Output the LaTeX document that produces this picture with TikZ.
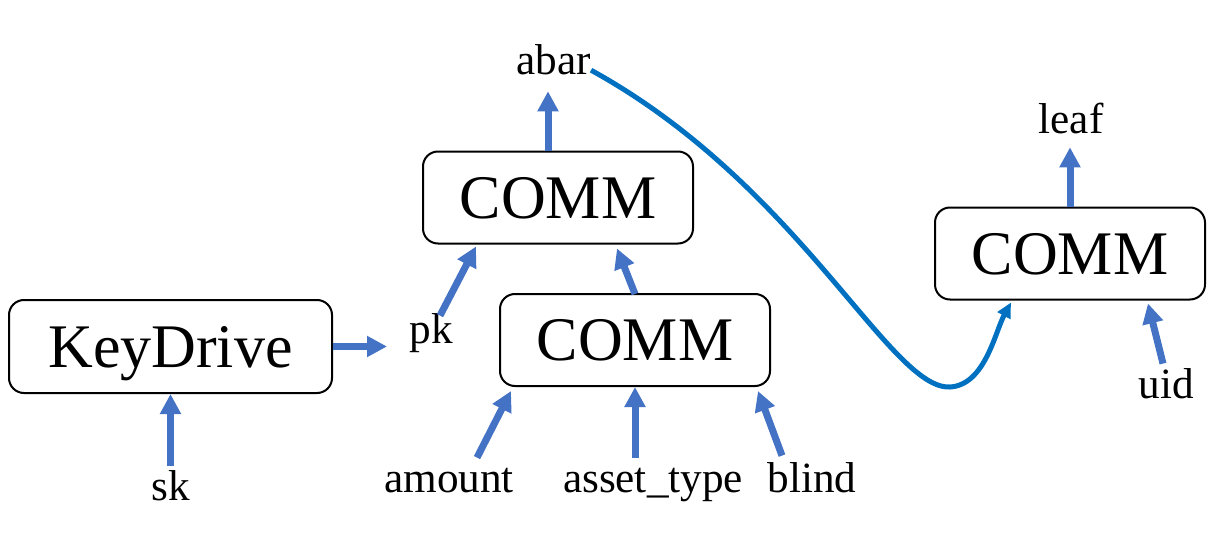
\documentclass[tikz,border=0pt]{standalone}
\usepackage{fontspec}
\setmainfont{Liberation Serif}
\usepackage{tikz}
\usetikzlibrary{calc,arrows.meta}
\usepackage{xcolor}
\definecolor{feedblue}{HTML}{4472C4}
\definecolor{linkblue}{HTML}{0070C0}

\begin{document}
\begin{tikzpicture}[
      x=0.5pt, y=-0.5pt,
      every node/.style={inner sep=0pt},
      fnbox/.style={
        draw=black, line width=1pt,
        rounded corners=7.5pt,
        minimum width=135pt, minimum height=46pt,
        font=\fontsize{31}{36}\selectfont,
        text depth=0pt
      },
      lbl/.style={
        anchor=base,
        font=\fontsize{21.6}{26}\selectfont,
        text height=0.7em, text depth=0.22em
      },
      feed/.style={-{Triangle[length=10pt,width=10pt]}, feedblue, line width=3.5pt},
      link/.style={-{Triangle[length=7.5pt,width=7pt]}, linkblue, line width=2.5pt}
    ]
      \useasboundingbox (0,0) rectangle (1228,546);

      \node[fnbox, minimum width=161.5pt, minimum height=46.5pt] (keydrive) at (170.5,346.5) {KeyDrive};
      \node[fnbox] (comm1) at (558,197.5) {COMM};
      \node[fnbox] (comm2) at (635,340) {COMM};
      \node[fnbox] (comm3) at (1070,253.5) {COMM};

      \node[lbl] (abar) at (553.5,75) {abar};
      \node[lbl] (leaf) at (1071,133) {leaf};
      \node[lbl] (pk) at (431,343) {pk};
      \node[lbl] (sk) at (170.5,500) {sk};
      \node[lbl] (amount) at (449,492) {amount};
      \node[lbl] (assettype) at (653,492) {asset\_type};
      \node[lbl] (blind) at (812,492) {blind};
      \node[lbl] (uid) at (1166,398) {uid};

      \draw[feed, shorten >=11pt] (keydrive.east) -- (keydrive.east -| pk.west);
      \draw[feed, shorten <=10pt] (sk.north) -- (keydrive.south);
      \draw[feed] ($(pk.north)+(9,-13)$) -- ($(comm1.south west)+(54,2)$);
      \draw[feed] ($(comm2.north)+(0,1)$) -- ($(comm1.south)+(59,4)$);
      \draw[feed, shorten >=5.75pt] ([xshift=-5pt]comm1.north) -- ([xshift=-5pt]comm1.north |- abar.south);
      \draw[feed] ($(amount.north)+(28,-20)$) -- ($(comm2.south west)+(12,4)$);
      \draw[feed, shorten <=10pt] (assettype.north -| comm2.south) -- (comm2.south);
      \draw[feed] ($(blind.north)+(-30,-22)$) -- ($(comm2.south east)+(-13,4)$);
      \draw[feed, shorten >=4.75pt] (comm3.north) -- (comm3.north |- leaf.south);
      \draw[feed] ($(uid.north)+(-3,-20)$) -- ($(comm3.south east)+(-58,3)$);

      \coordinate (dip) at (950,387);
      \draw[link] (abar.east) .. controls (800,185) and (890,390) .. (dip)
        .. controls (985,385) and (995,332) .. ($(comm3.south west)+(77,2)$);
    \end{tikzpicture}
\end{document}
